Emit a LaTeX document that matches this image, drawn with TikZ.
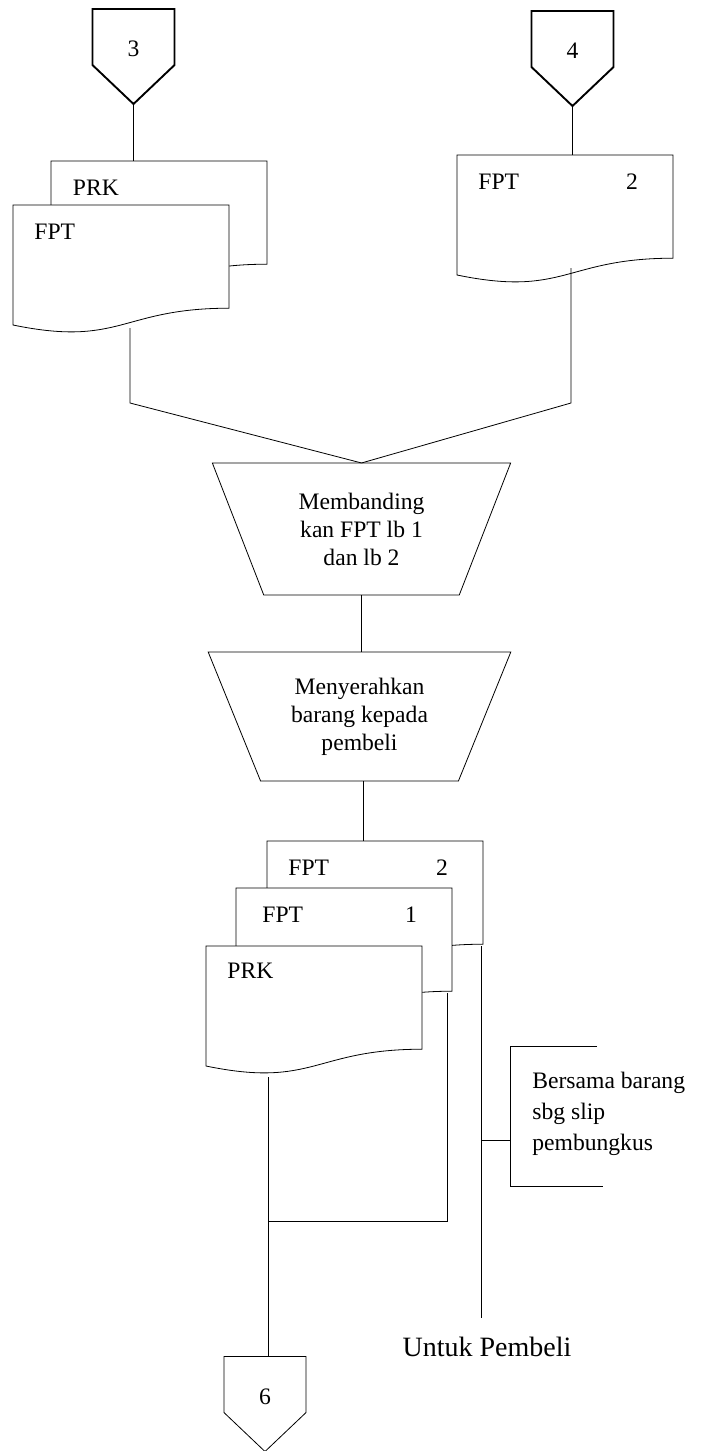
\documentclass[tikz,border=0pt]{standalone}
\usepackage{fontspec}
\setmainfont{Liberation Serif}
\usepackage{tikz}
\usetikzlibrary{positioning,shapes.geometric,calc,backgrounds}

% document symbol drawn behind the node (wavy bottom)
\newcommand{\docshape}[1]{%
  \begin{pgfonlayer}{background}
    \filldraw[fill=white] (#1.north west) -- (#1.north east)
      -- ($(#1.north east)!0.86!(#1.south east)$)
      .. controls ($(#1.north)!0.86!(#1.south)$) and ($(#1.north)!1.186!(#1.south)$)
      .. (#1.south west) -- cycle;
  \end{pgfonlayer}}
% off-page connector
\newcommand{\offpage}[1]{%
  \draw (#1.north west) -- (#1.north east) -- ($(#1.north east)!0.59!(#1.south east)$)
    -- (#1.south) -- ($(#1.north west)!0.59!(#1.south west)$) -- cycle;}

\begin{document}
\begin{tikzpicture}[
    x=0.5pt, y=0.5pt,
    line width=0.95pt,
    font=\fontsize{11.8}{14}\selectfont,
    doc/.style={minimum width=108pt, minimum height=60pt, inner sep=0pt, outer sep=0pt},
    doclbl/.style={anchor=west, inner sep=0pt, xshift=10.5pt, yshift=-13.5pt},
    docnum/.style={anchor=center, inner sep=0pt, xshift=-20.5pt, yshift=-13.5pt},
    conn/.style={minimum width=41pt, minimum height=47.5pt, inner sep=0pt, outer sep=0pt, text height=6pt, text depth=6pt},
    proc/.style={draw, trapezium, shape border rotate=180, trapezium stretches=true,
        trapezium left angle=65.5, trapezium right angle=65.5,
        minimum width=149.5pt, minimum height=66pt, inner sep=0pt, outer sep=0pt, align=center}
]
    \useasboundingbox (0,0) rectangle (704,-1451);

    % Incoming connectors
    \node[conn] (c3) at (133.5,-56.5) {3};
    \node[conn] (c4) at (572.5,-58.5) {4};
    \offpage{c3}
    \offpage{c4}

    % Documents from 3
    \node[doc, label={[doclbl]north west:PRK}] (prkA) at (159,-221) {};
    \docshape{prkA}
    \node[doc, label={[doclbl]north west:FPT}] (fptA) at (121,-265) {};
    \docshape{fptA}

    % Document from 4
    \node[doc, label={[doclbl]north west:FPT}, label={[docnum]north east:2}] (fptB) at (565,-215) {};
    \docshape{fptB}

    % Processes
    \node[proc] (cmp) at (361.5,-529) {Membanding\\kan FPT lb 1\\dan lb 2};
    \node[proc, minimum width=151.5pt, minimum height=64.5pt,
        trapezium left angle=64.9, trapezium right angle=64.9] (hand) at (359.5,-716.5)
        {Menyerahkan\\barang kepada\\pembeli};

    % Output documents
    \node[doc, label={[doclbl]north west:FPT}, label={[docnum]north east:2}] (fpt2b) at (375,-901) {};
    \docshape{fpt2b}
    \node[doc, label={[doclbl, xshift=2.5pt]north west:FPT}, label={[docnum]north east:1}] (fpt1b) at (344,-948) {};
    \docshape{fpt1b}
    \node[doc, label={[doclbl, yshift=1pt]north west:PRK}] (prkb) at (314,-1006) {};
    \docshape{prkb}

    % Outgoing connector
    \node[conn] (c6) at (265,-1404) {6};
    \offpage{c6}

    % Notes
    \node[anchor=west, align=left, inner sep=0pt, font=\fontsize{11.8}{15.5}\selectfont] (note) at (532,-1113.5)
        {Bersama barang\\sbg slip\\pembungkus};
    \node[font=\fontsize{14}{17}\selectfont] (buyer) at (487,-1347) {Untuk Pembeli};

    % Flow lines
    \draw (c3.south) -- (c3.south |- prkA.north);
    \draw (c4.south) -- (c4.south |- fptB.north);
    \draw ($(fptA.south)+(9,-3)$) -- ++(0,-75) -- (cmp.north);
    \draw ($(fptB.south)+(6,7)$) -- ++(0,-135) -- (cmp.north);
    \draw (cmp.south) -- (cmp.south |- hand.north);
    \draw ([xshift=2pt]hand.south) -- ([xshift=2pt]hand.south |- fpt2b.north);

    \coordinate (prkOut) at ($(prkb.south)+(-46,-11)$);
    \coordinate (f1Out) at ($(fpt1b.south)+(103,15)$);
    \coordinate (f2Out) at ($(fpt2b.south)+(106,15)$);
    \draw (prkOut) -- (prkOut |- c6.north);
    \draw (f1Out) -- ++(0,-228) coordinate (f1End) -- (f1End -| prkOut);
    \draw (f2Out) -- ++(0,-372);
    \draw ($(f2Out)+(0,-194)$) -- ++(29,0);

    % Bracket of the note
    \draw (597,-1046) -- (510,-1046) -- (510,-1186) -- (603,-1186);
\end{tikzpicture}
\end{document}
